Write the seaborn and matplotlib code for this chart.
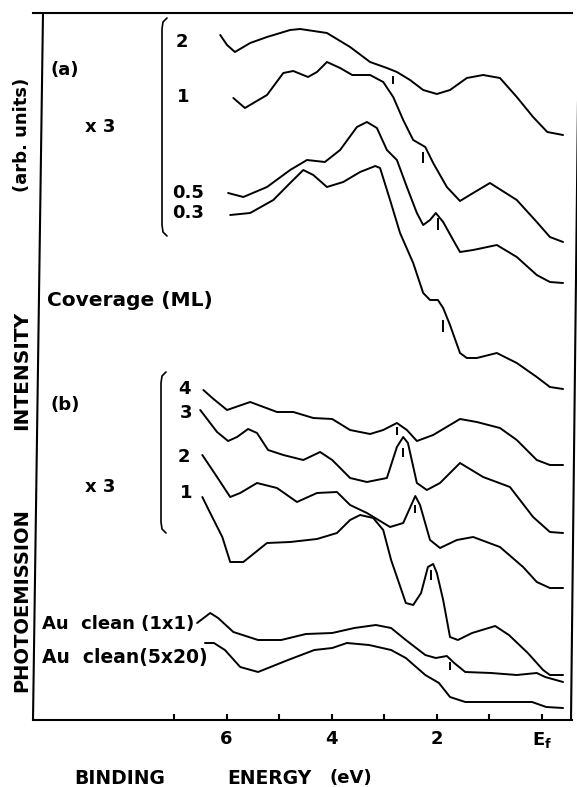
import numpy as np
import pandas as pd
import matplotlib
matplotlib.use("Agg")
import matplotlib.pyplot as plt
from matplotlib.lines import Line2D
import seaborn as sns

# ---- spectra: binding energy (eV) and stacked intensity (arb. units) ----
# (a) coverage series
a2_energy = [6.12, 5.99, 5.84, 5.55, 5.23, 4.79, 4.60, 4.09, 3.65, 3.27, 2.95, 2.76, 2.51, 2.26, 2.00, 1.75, 1.43, 1.12, 0.80, 0.48, 0.17, -0.10, -0.40]
a2_int = [685, 675, 668, 677, 683, 690, 691, 687, 673, 658, 652, 648, 640, 630, 626, 630, 642, 645, 642, 623, 603, 588, 585]

a1_energy = [5.87, 5.65, 5.23, 4.92, 4.73, 4.45, 4.28, 4.09, 3.84, 3.61, 3.27, 3.02, 2.83, 2.64, 2.45, 2.22, 2.07, 1.81, 1.56, 1.31, 0.99, 0.48, 0.10, -0.15, -0.40]
a1_int = [622, 612, 625, 647, 649, 643, 648, 658, 652, 645, 645, 638, 623, 600, 580, 573, 557, 533, 519, 527, 537, 520, 498, 483, 478]

a05_energy = [5.97, 5.68, 5.23, 4.79, 4.47, 4.13, 3.84, 3.52, 3.33, 3.14, 2.95, 2.76, 2.57, 2.38, 2.26, 2.13, 2.02, 1.88, 1.69, 1.56, 1.31, 0.86, 0.48, 0.10, -0.15, -0.40]
a05_int = [527, 523, 533, 550, 560, 558, 570, 593, 598, 592, 570, 560, 533, 507, 495, 500, 507, 498, 480, 468, 470, 475, 463, 445, 438, 437]

a03_energy = [5.93, 5.55, 5.11, 4.79, 4.54, 4.35, 4.09, 3.78, 3.46, 3.17, 3.08, 2.89, 2.70, 2.45, 2.26, 2.13, 1.98, 1.88, 1.75, 1.56, 1.43, 1.24, 0.86, 0.48, 0.10, -0.15, -0.40]
a03_int = [505, 507, 520, 537, 550, 545, 533, 538, 548, 554, 552, 520, 487, 457, 427, 420, 420, 412, 395, 367, 362, 362, 367, 357, 343, 333, 331]

# (b) coverage series
b4_energy = [6.44, 6.27, 5.99, 5.55, 5.04, 4.73, 4.35, 3.99, 3.65, 3.27, 3.02, 2.76, 2.57, 2.38, 2.07, 1.56, 1.24, 0.80, 0.48, 0.10, -0.15, -0.40]
b4_int = [330, 322, 310, 318, 308, 308, 302, 301, 290, 286, 290, 297, 290, 279, 285, 301, 298, 292, 280, 260, 255, 255]

b3_energy = [6.50, 6.18, 5.97, 5.80, 5.59, 5.42, 5.21, 4.92, 4.54, 4.22, 3.99, 3.65, 3.33, 2.95, 2.76, 2.64, 2.55, 2.38, 2.19, 1.94, 1.56, 1.12, 0.61, 0.17, -0.15, -0.40]
b3_int = [310, 288, 279, 283, 291, 287, 270, 265, 260, 268, 260, 242, 238, 242, 273, 283, 277, 237, 230, 237, 257, 243, 233, 203, 188, 187]

b2_energy = [6.46, 6.18, 5.93, 5.74, 5.42, 5.04, 4.66, 4.28, 3.90, 3.65, 3.33, 2.89, 2.64, 2.41, 2.32, 2.13, 1.94, 1.62, 1.31, 0.80, 0.36, 0.10, -0.15, -0.40]
b2_int = [265, 243, 223, 227, 237, 232, 218, 227, 228, 215, 207, 193, 197, 224, 215, 180, 172, 180, 183, 173, 153, 138, 132, 132]

b1_energy = [6.46, 6.31, 6.08, 5.93, 5.68, 5.23, 4.79, 4.28, 3.90, 3.65, 3.46, 3.21, 3.02, 2.87, 2.72, 2.59, 2.45, 2.30, 2.17, 2.07, 2.00, 1.88, 1.75, 1.60, 1.33, 0.89, 0.63, 0.27, -0.02, -0.15, -0.40]
b1_int = [223, 207, 183, 158, 158, 177, 178, 181, 187, 200, 205, 202, 190, 160, 137, 117, 115, 127, 153, 156, 147, 120, 83, 80, 87, 94, 85, 67, 50, 45, 45]

# clean Au surfaces
au1_energy = [6.56, 6.31, 6.16, 5.87, 5.40, 4.96, 4.49, 3.99, 3.57, 3.16, 2.87, 2.59, 2.22, 2.02, 1.81, 1.67, 1.46, 0.97, 0.48, 0.10, -0.06, -0.40]
au1_int = [97, 107, 102, 88, 80, 80, 86, 87, 92, 95, 92, 80, 65, 62, 64, 57, 48, 47, 45, 47, 43, 38]

au5_energy = [6.41, 6.24, 6.03, 5.74, 5.40, 4.83, 4.33, 3.99, 3.71, 3.29, 2.87, 2.59, 2.22, 1.96, 1.75, 1.46, 0.97, 0.19, -0.08, -0.40]
au5_int = [77, 77, 70, 53, 48, 60, 70, 72, 77, 75, 70, 62, 45, 37, 23, 18, 18, 18, 13, 12]

# peak markers (short vertical bars)
mark_energy = [2.83, 2.26, 1.98, 1.88, 2.76, 2.64, 2.41, 2.11, 1.75]
mark_lo = [636, 557, 490, 388, 285, 263, 207, 140, 50]
mark_hi = [644, 568, 502, 400, 293, 272, 215, 150, 58]

# axis ticks
major_ticks = [6, 4, 2, 0]
major_labels = ["6", "4", "2", r"$\mathbf{E_f}$"]
minor_ticks = [7, 5, 3, 1]

curves = {
    "a2": (a2_energy, a2_int), "a1": (a1_energy, a1_int),
    "a0.5": (a05_energy, a05_int), "a0.3": (a03_energy, a03_int),
    "b4": (b4_energy, b4_int), "b3": (b3_energy, b3_int),
    "b2": (b2_energy, b2_int), "b1": (b1_energy, b1_int),
    "au1x1": (au1_energy, au1_int), "au5x20": (au5_energy, au5_int),
}
df = pd.concat(
    [pd.DataFrame({"energy": e, "intensity": i, "curve": k}) for k, (e, i) in curves.items()],
    ignore_index=True,
)

sns.set_style("white")
plt.rcParams["font.family"] = ["DejaVu Sans"]
plt.rcParams["font.weight"] = "bold"
plt.rcParams["mathtext.fontset"] = "dejavusans"
plt.rcParams["text.color"] = "black"
plt.rcParams["xtick.color"] = "black"
plt.rcParams["axes.labelcolor"] = "black"

W, H = 577, 787
fig = plt.figure(figsize=(W / 100, H / 100), dpi=100)


def fx(px):
    return px / W


def fy(py):
    return 1 - py / H


ax = fig.add_axes([fx(33), fy(720), fx(572) - fx(33), fy(13) - fy(720)])
sns.lineplot(data=df, x="energy", y="intensity", units="curve", estimator=None,
             color="black", linewidth=1.4, legend=False, ax=ax)
ax.vlines(mark_energy, mark_lo, mark_hi, color="black", linewidth=1.4)

ax.set_xlim(9.68, -0.57)
ax.set_ylim(0, 707)
ax.set_xticks(major_ticks)
ax.set_xticklabels(major_labels, fontsize=13, fontweight="bold", color="black")
ax.set_xticks(minor_ticks, minor=True)
ax.set_yticks([])
ax.set_xlabel("")
ax.set_ylabel("")
ax.tick_params(axis="x", which="both", direction="in", length=4, width=1.5,
               pad=7, colors="black", bottom=True)
for side in ("left", "right"):
    ax.spines[side].set_visible(False)
for side in ("top", "bottom"):
    ax.spines[side].set_linewidth(1.5)
    ax.spines[side].set_color("black")

# slightly leaning side borders of the frame
fig.add_artist(Line2D([fx(33), fx(43)], [fy(720), fy(13)], color="black", lw=1.5))
fig.add_artist(Line2D([fx(571), fx(579)], [fy(720), fy(13)], color="black", lw=1.5))


def bracket(x, top, bottom):
    xs = [x + 5, x + 1, x, x, x + 1, x + 5]
    ys = [top - 3, top + 1, top + 8, bottom - 8, bottom - 1, bottom + 3]
    fig.add_artist(Line2D([fx(v) for v in xs], [fy(v) for v in ys], color="black", lw=1.2))


bracket(162, 21, 233)
bracket(161, 375, 530)


def label(x, y, s, size=13, **kw):
    fig.text(fx(x), fy(y), s, fontsize=size, fontweight="bold", ha="left", va="center",
             color="black", **kw)


label(50, 70, "(a)")
label(85, 127, "x 3")
label(176, 42, "2")
label(177, 97, "1")
label(172, 193, "0.5")
label(172, 213, "0.3")
label(47, 301, "Coverage (ML)", size=14.5)
label(50, 405, "(b)")
label(85, 487, "x 3")
label(178, 389, "4")
label(180, 413, "3")
label(178, 457, "2")
label(180, 493, "1")
label(42, 624, "Au  clean (1x1)", size=13)
label(42, 658, "Au  clean(5x20)", size=13.5)

# axis titles
label(74, 778, "BINDING", size=13.5)
label(227, 778, "ENERGY", size=13.5)
label(330, 778, "(eV)", size=13)
for text, yc, size in (("PHOTOEMISSION", 600, 14), ("INTENSITY", 370, 14.5), ("(arb. units)", 135, 13)):
    fig.text(fx(22), fy(yc), text, rotation=90, fontsize=size, fontweight="bold",
             ha="center", va="center", color="black")

fig.savefig("out.png", dpi=100)
